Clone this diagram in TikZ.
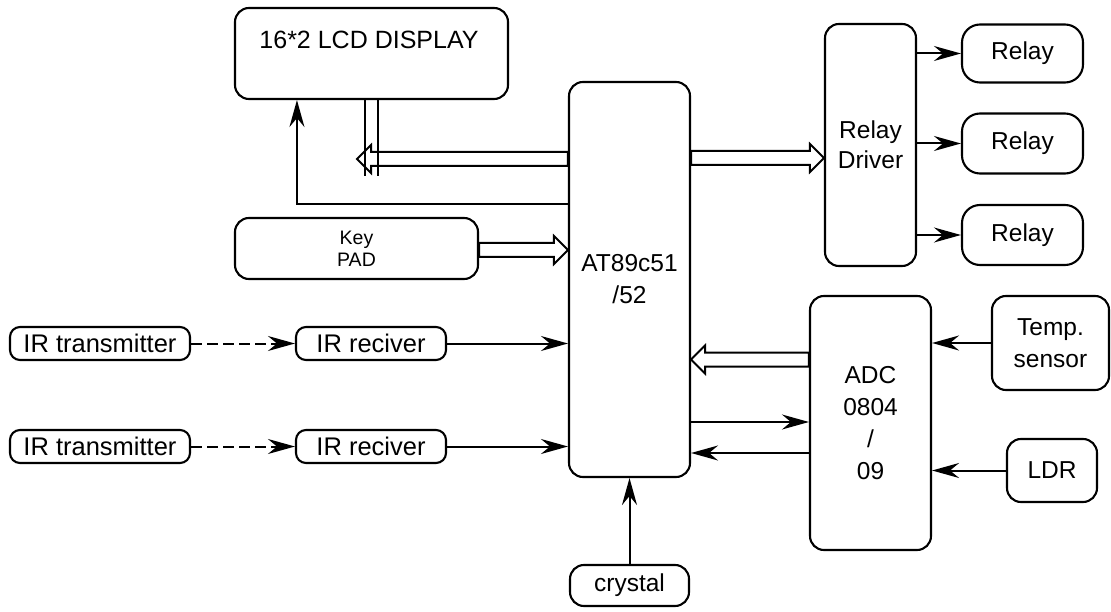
\documentclass[tikz,border=0pt]{standalone}
\usepackage{fontspec}
\setmainfont{Liberation Sans}
\usetikzlibrary{arrows.meta,calc}
\tikzset{
  box/.style={draw, line width=2.1pt, rounded corners=14pt, inner sep=0pt, align=center,
              font=\fontsize{24.5}{32}\selectfont},
  oval/.style={box, rounded corners=18pt},
  pill/.style={box, rounded corners=10pt},
  txt/.style={inner sep=0pt, font=\fontsize{25}{32}\selectfont},
  conn/.style={line width=2pt, -{Stealth[length=27pt,width=15pt,inset=9pt]}},
  wire/.style={line width=2pt},
  hollow/.style={line width=2pt, line join=miter},
  dashedconn/.style={conn, dash pattern=on 11pt off 5pt},
}
\newcommand{\harrow}[2]{%
  \draw[hollow] let \p1=(#1), \p2=(#2), \n1={sign(\x2-\x1)} in
  (\x1,\y1+7pt) -- (\x2-\n1*14pt,\y1+7pt) -- (\x2-\n1*14pt,\y1+14pt) -- (\x2,\y1)
  -- (\x2-\n1*14pt,\y1-14pt) -- (\x2-\n1*14pt,\y1-7pt) -- (\x1,\y1-7pt) -- cycle;}
\begin{document}
\begin{tikzpicture}[x=1pt,y=-1pt]
\useasboundingbox (0,0) rectangle (1111,612);

% nodes
\node[box, minimum width=273pt, minimum height=91pt] (lcd) at (371.5,53.5) {};
\node[txt] (lcdtxt) at (369,40) {16*2 LCD DISPLAY};
\node[box, minimum width=121pt, minimum height=395pt] (mcu) at (629.5,279.5) {AT89c51\\/52};
\node[box, minimum width=91pt, minimum height=242pt, font=\fontsize{24.5}{30}\selectfont] (drv) at (870.5,145) {Relay\\Driver};
\node[oval, minimum width=121pt, minimum height=58pt] (r1) at (1022.5,53.5) {Relay};
\node[oval, minimum width=121pt, minimum height=60pt] (r2) at (1022.5,143.5) {Relay};
\node[oval, minimum width=121pt, minimum height=60pt] (r3) at (1022.5,235) {Relay};
\node[box, minimum width=243pt, minimum height=61pt, font=\fontsize{19.5}{22}\selectfont] (key) at (356.5,248.5) {Key\\PAD};
\node[pill, minimum width=180pt, minimum height=33pt, font=\fontsize{25.5}{30}\selectfont] (irt1) at (100,343.5) {IR transmitter};
\node[pill, minimum width=180pt, minimum height=33pt, font=\fontsize{25.5}{30}\selectfont] (irt2) at (100,446.5) {IR transmitter};
\node[pill, minimum width=150pt, minimum height=33pt, font=\fontsize{25.5}{30}\selectfont] (irr1) at (371,343.5) {IR reciver};
\node[pill, minimum width=150pt, minimum height=33pt, font=\fontsize{25.5}{30}\selectfont] (irr2) at (371,446.5) {IR reciver};
\node[box, minimum width=121pt, minimum height=254pt] (adc) at (870.5,423) {ADC\\0804\\/\\09};
\node[box, minimum width=117pt, minimum height=94pt] (temp) at (1050.5,343) {Temp.\\sensor};
\node[box, minimum width=90pt, minimum height=63pt] (ldr) at (1052,470.5) {LDR};
\node[box, minimum width=119pt, minimum height=41pt] (xtal) at (629.5,585.5) {crystal};

% LCD connections
\draw[conn] (mcu.west |- 0,204) -| ([xshift=63pt]lcd.south west);
\coordinate (lcdbus) at (357,159);
\harrow{mcu.west |- 0,159}{lcdbus}
\draw[wire] ([xshift=131pt]lcd.south west) -- ++(0,76);
\draw[wire] ([xshift=144pt]lcd.south west) -- ++(0,76);

% relay driver
\harrow{mcu.east |- 0,158}{drv.west |- 0,158}
\draw[conn] (drv.east |- r1.west) -- (r1.west);
\draw[conn] (drv.east |- r2.west) -- (r2.west);
\draw[conn] (drv.east |- r3.west) -- (r3.west);

% keypad
\harrow{key.east |- 0,250}{mcu.west |- 0,250}

% IR
\draw[dashedconn] (irt1.east) -- (irr1.west);
\draw[dashedconn] (irt2.east) -- (irr2.west);
\draw[conn] (irr1.east) -- (mcu.west |- irr1.east);
\draw[conn] (irr2.east) -- (mcu.west |- irr2.east);

% ADC
\harrow{adc.west |- 0,359.5}{mcu.east |- 0,359.5}
\draw[conn] (mcu.east |- 0,422) -- (adc.west |- 0,422);
\draw[conn] (adc.west |- 0,453) -- (mcu.east |- 0,453);
\draw[conn] (temp.west) -- (adc.east |- temp.west);
\draw[conn] (ldr.west) -- (adc.east |- ldr.west);

% crystal
\draw[conn] (xtal.north) -- (mcu.south);
\end{tikzpicture}
\end{document}
